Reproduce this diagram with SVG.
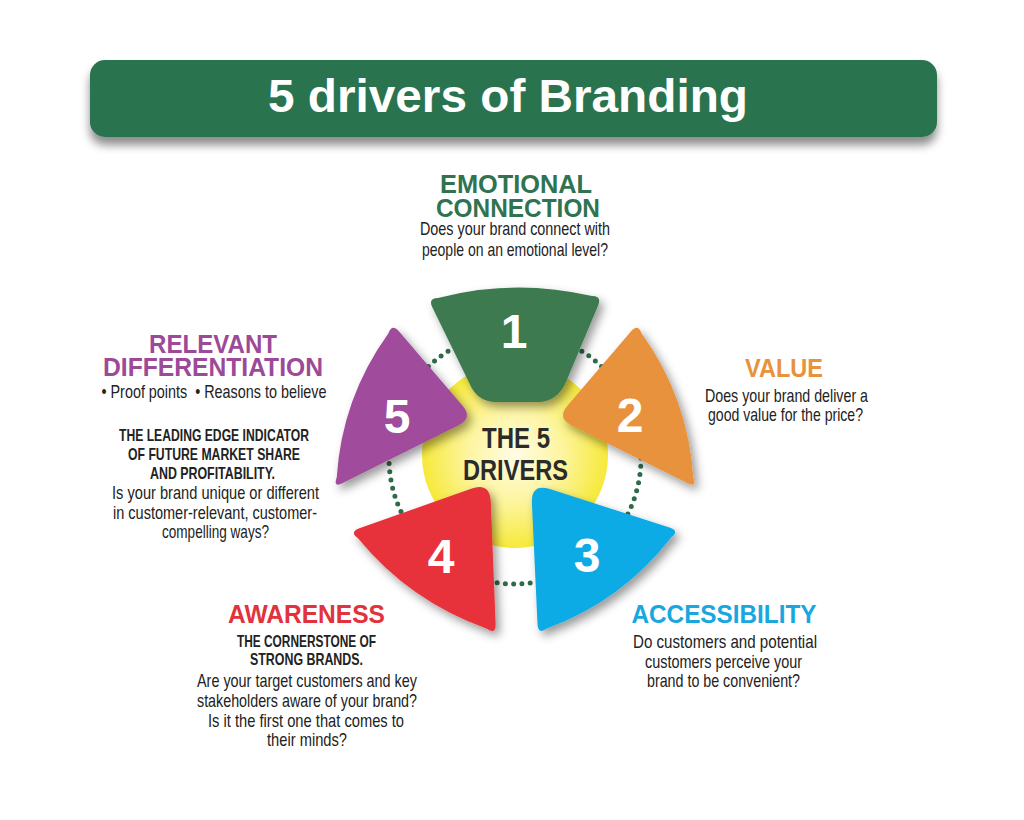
<svg xmlns="http://www.w3.org/2000/svg" width="1024" height="820" viewBox="0 0 1024 820">
  <defs>
    <style>
      .h{font-family:"Liberation Sans",Arial,sans-serif;font-weight:bold;font-size:25px;text-anchor:middle}
      .b{font-family:"Liberation Sans Narrow","Liberation Sans",Arial,sans-serif;font-size:18.5px;fill:#222;text-anchor:middle}
      .bb{font-family:"Liberation Sans Narrow","Liberation Sans",Arial,sans-serif;font-size:16.5px;font-weight:bold;fill:#222;text-anchor:middle}
      .ctr{font-family:"Liberation Sans Narrow","Liberation Sans",Arial,sans-serif;font-size:29px;font-weight:bold;fill:#2b2b2b;text-anchor:middle}
      .num{font-family:"Liberation Sans",Arial,sans-serif;font-weight:bold;font-size:48px;fill:#fff;text-anchor:middle}
      .petal{filter:url(#shadow)}
    </style>
    <filter id="shadow" x="-30%" y="-30%" width="160%" height="160%">
      <feDropShadow dx="4" dy="5" stdDeviation="5" flood-color="#000" flood-opacity="0.4"/>
    </filter>
    <filter id="barShadow" x="-10%" y="-30%" width="120%" height="180%">
      <feDropShadow dx="0" dy="8" stdDeviation="5" flood-color="#000" flood-opacity="0.45"/>
    </filter>
    <radialGradient id="yel" cx="515" cy="455" r="93" gradientUnits="userSpaceOnUse">
      <stop offset="0" stop-color="#fffce6"/>
      <stop offset="0.5" stop-color="#fdf5a0"/>
      <stop offset="1" stop-color="#f6e93a"/>
    </radialGradient>
  </defs>

  <rect width="1024" height="820" fill="#ffffff"/>

  <g id="title">
    <rect x="90" y="60" width="847" height="77" rx="15" fill="#2c7350" filter="url(#barShadow)"/>
    <text x="508" y="112" font-family="'Liberation Sans',Arial,sans-serif" font-weight="bold" font-size="47" fill="#fff" text-anchor="middle" textLength="480" lengthAdjust="spacingAndGlyphs">5 drivers of Branding</text>
  </g>

  <g id="connectors">
    <circle cx="515" cy="458" r="126" fill="none" stroke="#2f6b4a" stroke-width="5" stroke-linecap="round" stroke-dasharray="0 8.3"/>
  </g>

  <g id="center">
    <circle cx="515" cy="455" r="93" fill="url(#yel)"/>
    <text class="ctr" x="516" y="448" textLength="68" lengthAdjust="spacingAndGlyphs">THE 5</text>
    <text class="ctr" x="515.5" y="480" textLength="105" lengthAdjust="spacingAndGlyphs">DRIVERS</text>
  </g>

  <g id="node-1">
    <path class="petal" fill="#3c7a50" d="M 438,297.9 Q 515,278 592,296.1 Q 602,296 598.2,305.2 L 566,382 Q 557,402 538,402 L 496,402 Q 477,402 469.3,383 L 432.2,307.1 Q 428,298 438,297.9 Z"/>
    <text class="num" x="514" y="348">1</text>
    <text class="h" x="516" y="193" fill="#2f7350" textLength="152" lengthAdjust="spacingAndGlyphs">EMOTIONAL</text>
    <text class="h" x="518" y="216.5" fill="#2f7350" textLength="164" lengthAdjust="spacingAndGlyphs">CONNECTION</text>
    <text class="b" x="515" y="235" textLength="190" lengthAdjust="spacingAndGlyphs">Does your brand connect with</text>
    <text class="b" x="515" y="256" textLength="186" lengthAdjust="spacingAndGlyphs">people on an emotional level?</text>
  </g>

  <g id="node-2">
    <path class="petal" fill="#e9923c" d="M 641.7,333.4 Q 688.2,398.1 693.3,477.6 Q 697,488 687.2,483.1 L 571.3,425.2 Q 557,418 567.4,405.8 L 630.9,331.4 Q 638,323 641.7,333.4 Z"/>
    <text class="num" x="630" y="432">2</text>
    <text class="h" x="784" y="376.5" fill="#e8923b" textLength="78" lengthAdjust="spacingAndGlyphs">VALUE</text>
    <text class="b" x="786.5" y="401.7" textLength="163" lengthAdjust="spacingAndGlyphs">Does your brand deliver a</text>
    <text class="b" x="785.5" y="421" textLength="155" lengthAdjust="spacingAndGlyphs">good value for the price?</text>
  </g>

  <g id="node-3">
    <path class="petal" fill="#0eabe6" d="M 550,489.1 L 669.5,527.6 Q 680,531 671.1,537.5 Q 622,600.8 546.9,628.5 Q 538,635 537.5,624 L 531.9,503 Q 531,483 550,489.1 Z"/>
    <text class="num" x="587" y="572">3</text>
    <text class="h" x="724" y="623" fill="#18a7df" textLength="185" lengthAdjust="spacingAndGlyphs">ACCESSIBILITY</text>
    <text class="b" x="725" y="648" textLength="184" lengthAdjust="spacingAndGlyphs">Do customers and potential</text>
    <text class="b" x="723.5" y="667.5" textLength="157" lengthAdjust="spacingAndGlyphs">customers perceive your</text>
    <text class="b" x="723.5" y="687" textLength="153" lengthAdjust="spacingAndGlyphs">brand to be convenient?</text>
  </g>

  <g id="node-4">
    <path class="petal" fill="#e8323a" d="M 359.4,528.3 L 471.1,488.7 Q 490,482 490.8,502 L 495.6,624 Q 496,635 487,628.7 Q 409.9,601.5 358,538.3 Q 349,532 359.4,528.3 Z"/>
    <text class="num" x="441" y="573">4</text>
    <text class="h" x="306.5" y="623" fill="#e2323b" textLength="157" lengthAdjust="spacingAndGlyphs">AWARENESS</text>
    <text class="bb" x="306.5" y="646.7" textLength="139" lengthAdjust="spacingAndGlyphs">THE CORNERSTONE OF</text>
    <text class="bb" x="306.5" y="665" textLength="113" lengthAdjust="spacingAndGlyphs">STRONG BRANDS.</text>
    <text class="b" x="307" y="686.7" textLength="220" lengthAdjust="spacingAndGlyphs">Are your target customers and key</text>
    <text class="b" x="307" y="707" textLength="220" lengthAdjust="spacingAndGlyphs">stakeholders aware of your brand?</text>
    <text class="b" x="306" y="726.7" textLength="196" lengthAdjust="spacingAndGlyphs">Is it the first one that comes to</text>
    <text class="b" x="307" y="746" textLength="80" lengthAdjust="spacingAndGlyphs">their minds?</text>
  </g>

  <g id="node-5">
    <path class="petal" fill="#a04b9c" d="M 388.3,333.4 Q 341.8,398.1 336.7,477.6 Q 333,488 342.8,483.1 L 458.7,425.2 Q 473,418 462.6,405.8 L 399.1,331.4 Q 392,323 388.3,333.4 Z"/>
    <text class="num" x="397" y="433">5</text>
    <text class="h" x="213" y="352.5" fill="#9c4a98" textLength="128" lengthAdjust="spacingAndGlyphs">RELEVANT</text>
    <text class="h" x="213" y="375.5" fill="#9c4a98" textLength="220" lengthAdjust="spacingAndGlyphs">DIFFERENTIATION</text>
    <text class="b" x="214" y="398" textLength="225" lengthAdjust="spacingAndGlyphs">• Proof points &#160;• Reasons to believe</text>
    <text class="bb" x="214" y="440.5" textLength="190" lengthAdjust="spacingAndGlyphs">THE LEADING EDGE INDICATOR</text>
    <text class="bb" x="214" y="460" textLength="172" lengthAdjust="spacingAndGlyphs">OF FUTURE MARKET SHARE</text>
    <text class="bb" x="212.5" y="479" textLength="125" lengthAdjust="spacingAndGlyphs">AND PROFITABILITY.</text>
    <text class="b" x="215.5" y="499" textLength="207" lengthAdjust="spacingAndGlyphs">Is your brand unique or different</text>
    <text class="b" x="215" y="518.5" textLength="204" lengthAdjust="spacingAndGlyphs">in customer-relevant, customer-</text>
    <text class="b" x="215.5" y="538" textLength="107" lengthAdjust="spacingAndGlyphs">compelling ways?</text>
  </g>
</svg>
